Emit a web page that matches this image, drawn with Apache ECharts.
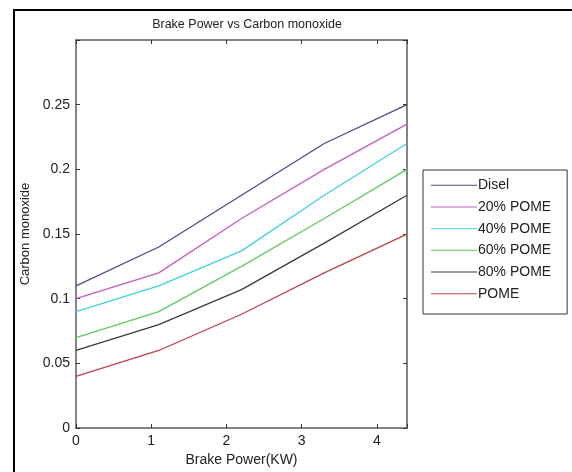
<!DOCTYPE html>
<html>
<head>
<meta charset="utf-8">
<script src="https://cdn.jsdelivr.net/npm/echarts@6/dist/echarts.min.js"></script>
<style>
html,body{margin:0;padding:0;background:#fff;}
#chart{width:572px;height:472px;}
</style>
</head>
<body>
<div id="chart"></div>
<script>
const brakePower = [0, 1.1, 2.2, 3.3, 4.4];
const seriesNames = ['Disel', '20% POME', '40% POME', '60% POME', '80% POME', 'POME'];
const disel   = [0.11, 0.14, 0.18, 0.22, 0.25];
const pome20  = [0.10, 0.12, 0.162, 0.20, 0.235];
const pome40  = [0.09, 0.11, 0.137, 0.18, 0.22];
const pome60  = [0.07, 0.09, 0.125, 0.162, 0.20];
const pome80  = [0.06, 0.08, 0.107, 0.143, 0.18];
const pome100 = [0.04, 0.06, 0.088, 0.12, 0.15];
const xTicks = [0, 1, 2, 3, 4];
const yTicks = [0, 0.05, 0.1, 0.15, 0.2, 0.25];

const allValues = [disel, pome20, pome40, pome60, pome80, pome100];
const colors = ['#4a4a90', '#c45cc4', '#3fd2dc', '#5ccc5c', '#3a3a3a', '#c4404e'];

const font = 'Liberation Sans, Arial, sans-serif';
const chart = echarts.init(document.getElementById('chart'));

function axisCommon() {
  return {
    axisLine: { show: true, onZero: false, lineStyle: { color: '#5a5a5a', width: 1.5 } },
    axisTick: { show: true, inside: true, length: 4, lineStyle: { color: '#333', width: 1 } },
    splitLine: { show: false }
  };
}

chart.setOption({
  animation: false,
  backgroundColor: '#fff',
  title: {
    text: 'Brake Power vs Carbon monoxide',
    left: 242, top: 13, textAlign: 'center',
    textStyle: { fontFamily: font, fontSize: 12.5, fontWeight: 'normal', color: '#222' }
  },
  grid: { left: 76, top: 40, right: 165, bottom: 39 },
  legend: {
    orient: 'vertical',
    left: 423, top: 170,
    padding: [7, 16, 12, 8],
    itemGap: 5.2,
    itemWidth: 46, itemHeight: 1,
    icon: 'rect',
    borderColor: '#333', borderWidth: 1,
    backgroundColor: '#fff',
    textStyle: { fontFamily: font, fontSize: 14, color: '#222', padding: [0, 0, 0, -4], lineHeight: 16.5 },
    data: seriesNames
  },
  xAxis: [
    Object.assign({
      type: 'value', min: 0, max: 4.4, interval: 1,
      name: 'Brake Power(KW)', nameLocation: 'middle', nameGap: 24,
      nameTextStyle: { fontFamily: font, fontSize: 14, color: '#222' },
      axisLabel: { fontFamily: font, fontSize: 14, color: '#222', margin: 6,
        formatter: v => xTicks.includes(v) ? String(v) : '' }
    }, axisCommon()),
    Object.assign({
      type: 'value', min: 0, max: 4.4, interval: 1, position: 'top',
      axisLabel: { show: false }
    }, axisCommon())
  ],
  yAxis: [
    Object.assign({
      type: 'value', min: 0, max: 0.3, interval: 0.05,
      name: 'Carbon monoxide', nameLocation: 'middle', nameGap: 42,
      nameTextStyle: { fontFamily: font, fontSize: 13, color: '#222' },
      axisLabel: { fontFamily: font, fontSize: 14, color: '#222', margin: 6,
        formatter: v => {
          const t = yTicks.find(y => Math.abs(y - v) < 1e-9);
          return t === undefined ? '' : String(t);
        } }
    }, axisCommon()),
    Object.assign({
      type: 'value', min: 0, max: 0.3, interval: 0.05, position: 'right',
      axisLabel: { show: false }
    }, axisCommon())
  ],
  series: seriesNames.map((name, i) => ({
    name: name,
    type: 'line',
    symbol: 'none',
    color: colors[i],
    lineStyle: { width: 1.3, color: colors[i] },
    data: brakePower.map((x, j) => [x, allValues[i][j]])
  })),
  graphic: [{
    type: 'rect',
    shape: { x: 14, y: 10, width: 700, height: 700 },
    style: { fill: 'none', stroke: '#000', lineWidth: 2 },
    silent: true
  }]
});
</script>
</body>
</html>
